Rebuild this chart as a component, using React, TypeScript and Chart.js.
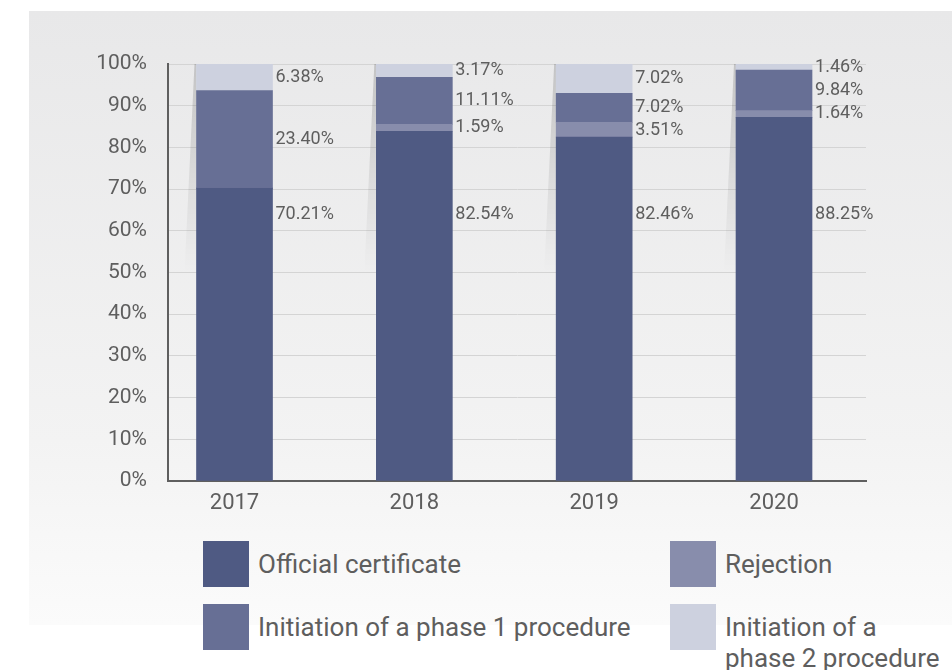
import React, { useEffect, useRef } from "react";
import { Chart, registerables } from "chart.js";

Chart.register(...registerables);

// ---- data ----
const YEARS = ["2017", "2018", "2019", "2020"];
const OFFICIAL = [70.21, 82.54, 82.46, 88.25];
const REJECTION = [0, 1.59, 3.51, 1.64];
const PHASE1 = [23.4, 11.11, 7.02, 9.84];
const PHASE2 = [6.38, 3.17, 7.02, 1.46];
const SERIES_NAMES = [
  "Official certificate",
  "Rejection",
  "Initiation of a phase 1 procedure",
  "Initiation of a phase 2 procedure",
];
const Y_MIN = 0;
const Y_MAX = 100;
const Y_STEP = 10;

// ---- styles ----
const COLORS = ["#4f5a83", "#888dac", "#676f95", "#cdd1df"];
const TEXT = "#5e5e5e";
const FONT = "Roboto";
const WEIGHT = 400;
const OFFICIAL_LABEL_LEVEL = 64;

const RAW = [OFFICIAL, REJECTION, PHASE1, PHASE2];
const TOTALS = YEARS.map((_, i) => RAW.reduce((s, arr) => s + arr[i], 0));

const shadowPlugin = {
  id: "barShadow",
  beforeDatasetsDraw(chart: any) {
    const ctx = chart.ctx;
    const n = chart.data.datasets.length;
    YEARS.forEach((_, i) => {
      const el0 = chart.getDatasetMeta(0).data[i];
      if (!el0) return;
      const p0 = el0.getProps(["x", "y", "base", "width"], true);
      let top = p0.y;
      for (let d = 0; d < n; d++) {
        const el = chart.getDatasetMeta(d).data[i];
        const p = el.getProps(["y"], true);
        top = Math.min(top, p.y);
      }
      const left = p0.x - p0.width / 2;
      const h = p0.base - top;
      const yEnd = top + h * 0.5;
      ctx.save();
      const g = ctx.createLinearGradient(0, top, 0, yEnd);
      g.addColorStop(0, "rgba(0,0,0,0.16)");
      g.addColorStop(1, "rgba(0,0,0,0)");
      ctx.fillStyle = g;
      ctx.beginPath();
      ctx.moveTo(left, top);
      ctx.lineTo(left - 2, top);
      ctx.lineTo(left - 12, yEnd);
      ctx.lineTo(left, yEnd);
      ctx.closePath();
      ctx.fill();
      ctx.restore();
    });
  },
};

const labelPlugin = {
  id: "segLabels",
  afterDatasetsDraw(chart: any) {
    const ctx = chart.ctx;
    const yScale = chart.scales.y;
    ctx.save();
    ctx.font = `${WEIGHT} 18px ${FONT}`;
    ctx.fillStyle = TEXT;
    ctx.textAlign = "left";
    ctx.textBaseline = "middle";
    YEARS.forEach((_, i) => {
      const items: { x: number; y: number; text: string }[] = [];
      chart.data.datasets.forEach((_ds: any, d: number) => {
        const raw = RAW[d][i];
        if (!raw) return;
        const el = chart.getDatasetMeta(d).data[i];
        const p = el.getProps(["x", "y", "base", "width"], true);
        const ly = d === 0 ? yScale.getPixelForValue(OFFICIAL_LABEL_LEVEL) : (p.y + p.base) / 2;
        items.push({ x: p.x + p.width / 2 + 3, y: ly, text: raw.toFixed(2) + "%" });
      });
      items.sort((a, b) => a.y - b.y);
      for (let k = 1; k < items.length; k++) {
        if (items[k].y < items[k - 1].y + 23) items[k].y = items[k - 1].y + 23;
      }
      items.forEach((it) => ctx.fillText(it.text, it.x, it.y));
    });
    ctx.restore();
  },
};

function ChartCanvas() {
  const ref = useRef<HTMLCanvasElement | null>(null);
  useEffect(() => {
    if (!ref.current) return;
    const chart = new Chart(ref.current, {
      type: "bar",
      data: {
        datasets: RAW.map((arr, d) => ({
          label: SERIES_NAMES[d],
          data: arr.map((v, i) => ({ x: i, y: (v / TOTALS[i]) * 100 })),
          backgroundColor: COLORS[d],
          borderWidth: 0,
          barThickness: 76,
        })),
      } as any,
      options: {
        animation: false,
        responsive: false,
        devicePixelRatio: 1,
        layout: { padding: { top: 64, right: 86, left: 0, bottom: 0 } },
        plugins: {
          legend: { display: false },
          tooltip: { enabled: false },
        },
        scales: {
          x: {
            type: "linear",
            stacked: true,
            offset: false,
            min: -0.3698,
            max: 3.5115,
            afterBuildTicks: (scale: any) => {
              scale.ticks = YEARS.map((_, i) => ({ value: i }));
            },
            afterFit: (scale: any) => {
              scale.height = 49;
            },
            grid: { display: false, drawTicks: false, offset: false },
            border: { display: true, color: "#5f5f5f", width: 2 },
            ticks: {
              callback: (v: any) => YEARS[v] ?? "",
              font: { family: FONT, size: 22, weight: WEIGHT },
              color: TEXT,
              padding: 9,
              maxRotation: 0,
              autoSkip: false,
            },
          },
          y: {
            stacked: true,
            min: Y_MIN,
            max: Y_MAX,
            afterFit: (scale: any) => {
              scale.width = 168;
            },
            grid: { color: "#d4d4d4", lineWidth: 1, drawTicks: false },
            border: { display: true, color: "#5f5f5f", width: 2 },
            ticks: {
              stepSize: Y_STEP,
              callback: (v: any) => v + "%",
              font: { family: FONT, size: 21, weight: WEIGHT },
              color: TEXT,
              padding: 21,
            },
          },
        },
      } as any,
      plugins: [shadowPlugin, labelPlugin],
    });
    return () => chart.destroy();
  }, []);
  return (
    <canvas
      ref={ref}
      width={952}
      height={530}
      style={{ position: "absolute", left: 0, top: 0, width: 952, height: 530 }}
    />
  );
}

function LegendItem({ idx, left, top, textWidth }: { idx: number; left: number; top: number; textWidth?: number }) {
  return (
    <div style={{ position: "absolute", left, top, display: "flex", alignItems: "flex-start" }}>
      <div style={{ width: 46, height: 46, background: COLORS[idx], flex: "0 0 auto" }} />
      <div
        style={{
          marginLeft: 9,
          marginTop: 7.5,
          fontFamily: FONT,
          fontWeight: WEIGHT,
          fontSize: 26,
          lineHeight: "31px",
          color: TEXT,
          width: textWidth,
          whiteSpace: textWidth ? "normal" : "nowrap",
        }}
      >
        {SERIES_NAMES[idx]}
      </div>
    </div>
  );
}

export default function App() {
  return (
    <div
      style={{
        position: "fixed",
        left: 0,
        top: 0,
        width: 952,
        height: 670,
        background: "#ffffff",
        overflow: "hidden",
      }}
    >
      <div
        style={{
          position: "absolute",
          left: 29,
          top: 11,
          width: 923,
          height: 614,
          background: "linear-gradient(to bottom, #e8e8e9 0%, #f3f3f3 70%, #fbfbfb 100%)",
        }}
      />
      <ChartCanvas />
      <LegendItem idx={0} left={203} top={541} />
      <LegendItem idx={1} left={670} top={541} />
      <LegendItem idx={2} left={203} top={604} />
      <LegendItem idx={3} left={670} top={604} textWidth={226} />
    </div>
  );
}
